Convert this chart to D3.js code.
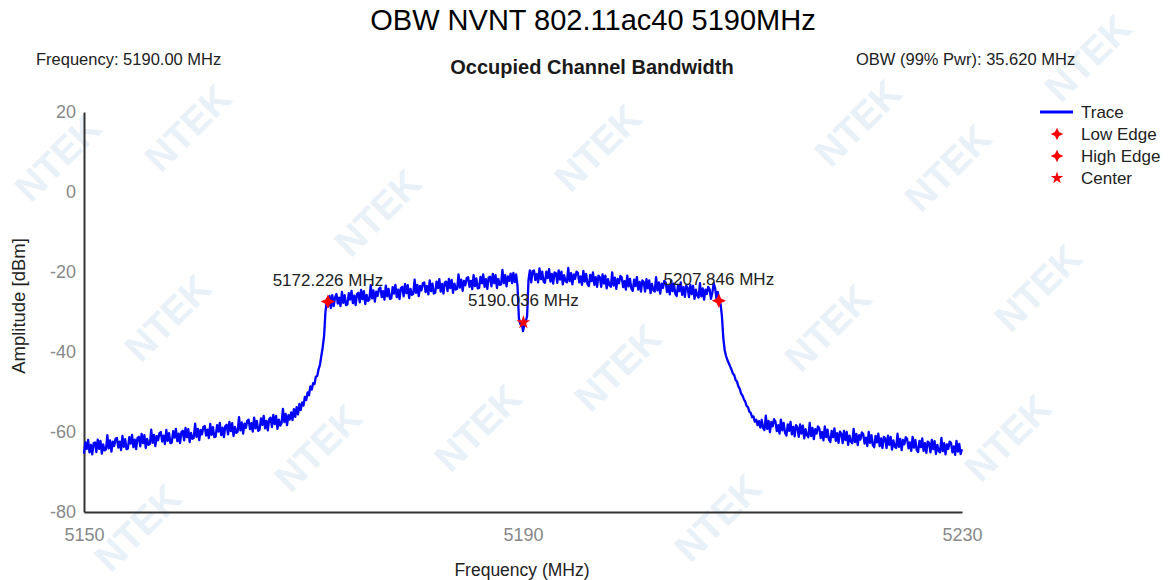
<!DOCTYPE html>
<html><head><meta charset="utf-8">
<script src="https://cdn.jsdelivr.net/npm/d3@7"></script>
<style>body{margin:0;background:#fff}svg{display:block}text{font-family:"Liberation Sans",Arial,sans-serif}</style>
</head><body><svg id="c" width="1169" height="580"></svg>
<script>
// ---- data (one row per MHz, 0.125 MHz steps, 5150 .. 5230 MHz) ----
const freqStart = 5150, freqStep = 0.125;
const amplitude = [
-65.4,-62.6,-64.2,-62.0,-65.1,-63.2,-65.6,-62.8,
-62.6,-65.0,-61.9,-64.2,-62.2,-65.4,-63.1,-64.6,
-64.4,-60.8,-64.1,-62.1,-64.9,-62.4,-63.5,-61.7,
-61.5,-63.9,-62.4,-64.5,-61.0,-63.7,-61.8,-64.3,
-64.1,-61.3,-62.9,-60.7,-63.8,-61.9,-64.3,-61.5,
-61.2,-63.6,-60.5,-62.8,-60.8,-64.0,-61.7,-63.2,
-63.0,-59.4,-62.7,-60.7,-63.5,-61.0,-62.1,-60.3,
-60.0,-62.4,-60.9,-63.0,-59.5,-62.2,-60.3,-62.8,
-62.6,-59.8,-61.4,-59.2,-62.3,-60.4,-62.8,-60.0,
-59.7,-62.1,-59.0,-61.3,-59.3,-62.5,-60.2,-61.7,
-61.5,-57.9,-61.2,-59.2,-62.0,-59.5,-60.6,-58.8,
-58.5,-60.9,-59.4,-61.5,-58.0,-60.7,-58.8,-61.3,
-61.1,-58.3,-59.9,-57.7,-60.8,-58.9,-61.3,-58.5,
-58.2,-60.6,-57.5,-59.8,-57.8,-61.0,-58.7,-60.2,
-59.9,-56.3,-59.6,-57.6,-60.4,-57.9,-59.0,-57.2,
-56.9,-59.3,-57.8,-59.9,-56.4,-59.1,-57.2,-59.7,
-59.4,-56.6,-58.2,-56.0,-59.1,-57.2,-59.6,-56.8,
-56.4,-58.8,-55.7,-58.0,-56.0,-59.2,-56.9,-58.4,
-57.8,-54.2,-57.5,-55.5,-58.3,-55.8,-56.9,-55.1,
-57.0,-54.3,-56.2,-53.8,-55.6,-53.0,-54.5,-52.6,
-53.4,-51.2,-52.0,-50.1,-50.8,-48.6,-49.4,-47.8,
-48.0,-46.2,-46.0,-44.3,-43.2,-41.0,-38.8,-36.0,
-30.0,-27.2,-28.6,-26.0,-29.0,-25.8,-28.5,-26.4,
-25.5,-27.9,-26.4,-28.5,-25.0,-27.7,-25.8,-28.3,
-28.1,-25.3,-26.9,-24.7,-27.8,-25.9,-28.3,-25.5,
-25.2,-27.6,-24.5,-26.8,-24.8,-28.0,-25.7,-27.2,
-26.9,-23.3,-26.6,-24.6,-27.4,-24.9,-26.0,-24.2,
-23.9,-26.3,-24.8,-26.9,-23.4,-26.1,-24.2,-26.7,
-26.6,-23.8,-25.4,-23.2,-26.3,-24.4,-26.8,-24.0,
-23.7,-26.1,-23.0,-25.3,-23.3,-26.5,-24.2,-25.7,
-25.5,-21.9,-25.2,-23.2,-26.0,-23.5,-24.6,-22.8,
-22.6,-25.0,-23.5,-25.6,-22.1,-24.8,-22.9,-25.4,
-25.2,-22.4,-24.0,-21.8,-24.9,-23.0,-25.4,-22.6,
-22.4,-24.8,-21.7,-24.0,-22.0,-25.2,-22.9,-24.4,
-24.2,-20.6,-23.9,-21.9,-24.7,-22.2,-23.3,-21.5,
-21.3,-23.7,-22.2,-24.3,-20.8,-23.5,-21.6,-24.1,
-24.0,-21.2,-22.8,-20.6,-23.7,-21.8,-24.2,-21.4,
-21.2,-23.6,-20.5,-22.8,-20.8,-24.0,-21.7,-23.2,
-23.1,-19.5,-22.8,-20.8,-23.6,-21.1,-22.2,-20.4,
-22.8,-20.2,-22.5,-20.6,-23.5,-31.5,-33.0,-32.6,
-34.8,-33.2,-32.4,-31.0,-22.0,-19.6,-22.6,-19.8,
-19.6,-22.0,-20.5,-22.6,-19.1,-21.8,-19.9,-22.4,
-22.7,-19.9,-21.5,-19.3,-22.4,-20.5,-22.9,-20.1,
-20.3,-22.7,-19.6,-21.9,-19.9,-23.1,-20.8,-22.3,
-22.6,-19.0,-22.3,-20.3,-23.1,-20.6,-21.7,-19.9,
-20.2,-22.6,-21.1,-23.2,-19.7,-22.4,-20.5,-23.0,
-23.5,-20.7,-22.3,-20.1,-23.2,-21.3,-23.7,-20.9,
-21.3,-23.7,-20.6,-22.9,-20.9,-24.1,-21.8,-23.3,
-23.7,-20.1,-23.4,-21.4,-24.2,-21.7,-22.8,-21.0,
-21.4,-23.8,-22.3,-24.4,-20.9,-23.6,-21.7,-24.2,
-24.7,-21.9,-23.5,-21.3,-24.4,-22.5,-24.9,-22.1,
-22.5,-24.9,-21.8,-24.1,-22.1,-25.3,-23.0,-24.5,
-24.9,-21.3,-24.6,-22.6,-25.4,-22.9,-24.0,-22.2,
-22.6,-25.0,-23.5,-25.6,-22.1,-24.8,-22.9,-25.4,
-26.0,-23.2,-24.8,-22.6,-25.7,-23.8,-26.2,-23.4,
-23.9,-26.3,-23.2,-25.5,-23.5,-26.7,-24.4,-25.9,
-26.4,-22.8,-26.1,-24.1,-26.9,-24.4,-25.5,-23.7,
-24.3,-26.7,-25.2,-22.8,-24.0,-26.5,-25.0,-27.3,
-28.0,-31.0,-36.5,-39.5,-41.0,-42.0,-42.8,-43.6,
-44.4,-45.4,-45.8,-47.0,-47.4,-48.6,-49.2,-50.4,
-50.9,-51.8,-52.4,-53.5,-53.8,-54.9,-55.2,-56.3,
-56.1,-57.4,-56.9,-58.3,-57.3,-58.9,-57.0,-59.0,
-59.5,-55.9,-59.2,-57.2,-60.0,-57.5,-58.6,-56.8,
-57.4,-59.8,-58.3,-60.4,-56.9,-59.6,-57.7,-60.2,
-60.9,-58.1,-59.7,-57.5,-60.6,-58.7,-61.1,-58.3,
-58.8,-61.2,-58.1,-60.4,-58.4,-61.6,-59.3,-60.8,
-61.3,-57.7,-61.0,-59.0,-61.8,-59.3,-60.4,-58.6,
-59.1,-61.5,-60.0,-62.1,-58.6,-61.3,-59.4,-61.9,
-62.5,-59.7,-61.3,-59.1,-62.2,-60.3,-62.7,-59.9,
-60.4,-62.8,-59.7,-62.0,-60.0,-63.2,-60.9,-62.4,
-62.8,-59.2,-62.5,-60.5,-63.3,-60.8,-61.9,-60.1,
-60.5,-62.9,-61.4,-63.5,-60.0,-62.7,-60.8,-63.3,
-63.8,-61.0,-62.6,-60.4,-63.5,-61.6,-64.0,-61.2,
-61.6,-64.0,-60.9,-63.2,-61.2,-64.4,-62.1,-63.6,
-64.0,-60.4,-63.7,-61.7,-64.5,-62.0,-63.1,-61.3,
-61.7,-64.1,-62.6,-64.7,-61.2,-63.9,-62.0,-64.5,
-65.0,-62.2,-63.8,-61.6,-64.7,-62.8,-65.2,-62.4,
-62.7,-65.1,-62.0,-64.3,-62.3,-65.5,-63.2,-64.7,
-65.1,-61.5,-64.8,-62.8,-65.6,-63.1,-64.2,-62.4,
-62.7,-65.1,-63.6,-65.7,-62.2,-64.9,-63.0,-65.5,
-64.3
];
const frequencies = amplitude.map((_, i) => freqStart + i * freqStep);
const xTickValues = [5150, 5190, 5230];
const yTickValues = [20, 0, -20, -40, -60, -80];
const markerNames = ["Low Edge", "High Edge", "Center"];
const markerFreqs = [5172.226, 5207.846, 5190.036];
const markerAmps = [-27.4, -27.2, -32.6];
const markerLabels = ["5172.226 MHz", "5207.846 MHz", "5190.036 MHz"];
const legendNames = ["Trace", "Low Edge", "High Edge", "Center"];
const watermarkSpots = [[190,130],[380,215],[600,150],[860,125],[1090,60],[60,160],
  [170,320],[620,370],[830,330],[1040,290],[320,450],[480,430],[1010,440],[720,520],[140,530],[950,170]];

// ---- drawing ----
const svg = d3.select("#c");

const wm = svg.append("g");
watermarkSpots.forEach(([wx, wy]) => {
  wm.append("text").attr("transform", `translate(${wx},${wy}) rotate(-45)`)
    .attr("text-anchor", "middle").attr("dominant-baseline", "middle")
    .attr("font-size", 38).attr("font-weight", "bold")
    .attr("fill", "#e8f0f8").text("NTEK");
});

const x = d3.scaleLinear().domain([5150, 5230]).range([84, 962]);
const y = d3.scaleLinear().domain([-80, 20]).range([512, 112]);

svg.append("text").attr("x", 593).attr("y", 30).attr("text-anchor", "middle")
  .attr("font-size", 29).attr("fill", "#000").text("OBW NVNT 802.11ac40 5190MHz");
svg.append("text").attr("x", 592).attr("y", 74).attr("text-anchor", "middle")
  .attr("font-size", 20).attr("font-weight", "bold").attr("fill", "#1a1a1a").text("Occupied Channel Bandwidth");
svg.append("text").attr("x", 36).attr("y", 65).attr("font-size", 16.5).attr("fill", "#222")
  .text("Frequency: 5190.00 MHz");
svg.append("text").attr("x", 856).attr("y", 65).attr("font-size", 16.5).attr("fill", "#222")
  .text("OBW (99% Pwr): 35.620 MHz");

const fmt = d => String(d);
const gx = svg.append("g").attr("transform", "translate(0,512)")
  .call(d3.axisBottom(x).tickValues(xTickValues).tickSize(0).tickPadding(16).tickFormat(fmt));
const gy = svg.append("g").attr("transform", "translate(84,0)")
  .call(d3.axisLeft(y).tickValues(yTickValues).tickSize(0).tickPadding(8).tickFormat(fmt));
[gx, gy].forEach(g => {
  g.select(".domain").attr("stroke", "#333").attr("stroke-width", 2);
  g.selectAll("text").attr("font-size", 18).attr("fill", "#888").attr("font-family", "Liberation Sans, Arial, sans-serif");
});

svg.append("text").attr("x", 522).attr("y", 576).attr("text-anchor", "middle")
  .attr("font-size", 17.5).attr("fill", "#222").text("Frequency (MHz)");
svg.append("text").attr("transform", "translate(25,306) rotate(-90)").attr("text-anchor", "middle")
  .attr("font-size", 18.5).attr("fill", "#222").text("Amplitude [dBm]");

const line = d3.line().x((d, i) => x(frequencies[i])).y(d => y(d));
svg.append("path").datum(amplitude).attr("d", line).attr("fill", "none")
  .attr("stroke", "#0000ff").attr("stroke-width", 2.3).attr("stroke-linejoin", "round");

const star4 = {
  draw(ctx, size) {
    const r = Math.sqrt(size) * 0.75, k = r * 0.32;
    ctx.moveTo(0, -r); ctx.lineTo(k, -k); ctx.lineTo(r, 0); ctx.lineTo(k, k);
    ctx.lineTo(0, r); ctx.lineTo(-k, k); ctx.lineTo(-r, 0); ctx.lineTo(-k, -k); ctx.closePath();
  }
};
const symTypes = [star4, star4, d3.symbolStar];
const symSizes = [90, 90, 60];

markerNames.forEach((n, i) => {
  svg.append("path").attr("d", d3.symbol().type(symTypes[i]).size(symSizes[i])())
    .attr("transform", `translate(${x(markerFreqs[i])},${y(markerAmps[i])})`).attr("fill", "#ff0000");
  svg.append("text").attr("x", x(markerFreqs[i])).attr("y", y(markerAmps[i]) - 16)
    .attr("text-anchor", "middle").attr("font-size", 17).attr("fill", "#222").text(markerLabels[i]);
});

const lg = svg.append("g");
legendNames.forEach((n, i) => {
  const ly = 112 + i * 22;
  if (i === 0) {
    lg.append("line").attr("x1", 1040).attr("x2", 1073).attr("y1", ly).attr("y2", ly)
      .attr("stroke", "#0000ff").attr("stroke-width", 3);
  } else {
    lg.append("path").attr("d", d3.symbol().type(symTypes[i - 1]).size(symSizes[i - 1] * 0.8)())
      .attr("transform", `translate(1057,${ly})`).attr("fill", "#ff0000");
  }
  lg.append("text").attr("x", 1081).attr("y", ly + 6).attr("font-size", 17).attr("fill", "#222").text(n);
});
</script></body></html>
